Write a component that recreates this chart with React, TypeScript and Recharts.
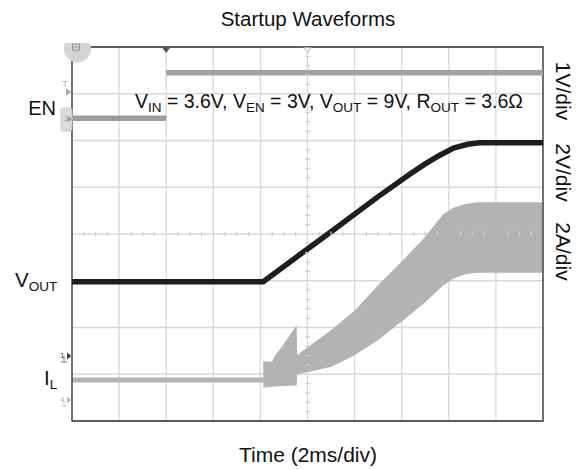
import React from 'react';
import {
  ComposedChart,
  Line,
  Area,
  XAxis,
  YAxis,
  CartesianGrid,
  ReferenceArea,
  ReferenceDot,
  Scatter,
} from 'recharts';

// Axes in scope divisions: time 0..10 div (2 ms/div), level 0..8 div
const timeTicks = [0, 1, 2, 3, 4, 5, 6, 7, 8, 9, 10];
const levelTicks = [0, 1, 2, 3, 4, 5, 6, 7, 8];

// EN trace (1 V/div)
const enLowT = [0, 2.0];
const enLowV = [6.475, 6.475];
const enHighT = [2.0, 10];
const enHighV = [7.45, 7.45];

// VOUT trace (2 V/div)
const voutT = [0, 4.06, 4.84, 5.5, 6.5, 7.2, 7.5, 7.8, 8.1, 8.4, 8.65, 10];
const voutV = [2.98, 2.98, 3.56, 4.05, 4.8, 5.3, 5.5, 5.68, 5.84, 5.92, 5.95, 5.95];

// IL ripple envelope (2 A/div): low / high edges
const ilT = [0, 4.06, 4.06, 4.25, 4.3, 4.5, 4.77, 4.78, 5.02, 5.51, 6.01, 6.5, 7.0, 7.49, 7.88, 8.1, 8.35, 8.6, 10];
const ilLow = [0.825, 0.825, 0.71, 0.73, 0.74, 0.75, 0.76, 1.0, 1.05, 1.16, 1.41, 1.73, 2.13, 2.53, 2.9, 3.05, 3.14, 3.17, 3.17];
const ilHigh = [0.93, 0.93, 1.28, 1.27, 1.38, 1.65, 2.05, 1.41, 1.59, 1.95, 2.37, 2.91, 3.41, 3.93, 4.42, 4.56, 4.64, 4.68, 4.68];

const enLow = enLowT.map((t, i) => ({ t, v: enLowV[i] }));
const enHigh = enHighT.map((t, i) => ({ t, v: enHighV[i] }));
const vout = voutT.map((t, i) => ({ t, v: voutV[i] }));
const il = ilT.map((t, i) => ({ t, r: [ilLow[i], ilHigh[i]] }));

// minor graticule ticks on the centre cross
const hMinor: { t: number; v: number }[] = [];
for (let k = 1; k < 40; k++) if (k % 4 !== 0) hMinor.push({ t: k * 0.25, v: 4 });
const vMinor: { t: number; v: number }[] = [];
for (let k = 1; k < 40; k++) if (k % 5 !== 0) vMinor.push({ t: 5, v: k * 0.2 });

const FONT = '"Liberation Sans", Arial, Helvetica, sans-serif';

const HTick = (p: any) => (
  <line x1={p.cx} x2={p.cx} y1={p.cy - 2.5} y2={p.cy + 2.5} stroke="#cfcfcf" strokeWidth={1.2} />
);
const VTick = (p: any) => (
  <line x1={p.cx - 2.5} x2={p.cx + 2.5} y1={p.cy} y2={p.cy} stroke="#cfcfcf" strokeWidth={1.2} />
);

const TrigDown = (p: any) => (
  <path d={`M${p.cx - 4.5},${p.cy} L${p.cx + 4.5},${p.cy} L${p.cx},${p.cy + 6} Z`} fill="#555" />
);
const TrigHollow = (p: any) => (
  <path d={`M${p.cx - 3.5},${p.cy + 0.5} L${p.cx + 3.5},${p.cy + 0.5} L${p.cx},${p.cy + 5.5} Z`} fill="#fff" stroke="#999" strokeWidth={0.8} />
);
const CornerBadge = (p: any) => (
  <g>
    <defs>
      <clipPath id="badgeClip">
        <rect x={p.cx - 20} y={p.cy - 6} width={40} height={30} />
      </clipPath>
    </defs>
    <circle cx={p.cx} cy={p.cy} r={13.5} fill="#d4d4d4" clipPath="url(#badgeClip)" />
    <rect x={p.cx - 5} y={p.cy - 5} width={7} height={6} fill="none" stroke="#888" strokeWidth={0.8} />
    <line x1={p.cx - 4} x2={p.cx + 1} y1={p.cy - 2} y2={p.cy - 2} stroke="#888" strokeWidth={0.8} />
  </g>
);
const TrigLevel = (p: any) => (
  <g>
    <path d={`M${p.cx - 5},${p.cy - 4} L${p.cx},${p.cy} L${p.cx - 5},${p.cy + 4} Z`} fill="#a8a8a8" />
    <text x={p.cx - 6} y={p.cy - 5} fontSize={9} fill="#b0b0b0" textAnchor="middle" fontFamily={FONT}>T</text>
  </g>
);
const Ch3Marker = (p: any) => (
  <g>
    <rect x={p.cx - 11} y={p.cy - 11} width={11} height={23} rx={2} fill="#dadada" stroke="#c4c4c4" strokeWidth={0.8} />
    <text x={p.cx - 8} y={p.cy + 2} fontSize={8} fill="#999" fontFamily={FONT}>3</text>
    <path d={`M${p.cx - 4},${p.cy - 3} L${p.cx},${p.cy} L${p.cx - 4},${p.cy + 3} Z`} fill="#999" />
  </g>
);
const Ch1Marker = (p: any) => (
  <g>
    <text x={p.cx - 11} y={p.cy + 2} fontSize={8} fill="#444" fontFamily={FONT}>1</text>
    <path d={`M${p.cx - 4},${p.cy - 3.5} L${p.cx},${p.cy} L${p.cx - 4},${p.cy + 3.5} Z`} fill="#333" />
    <line x1={p.cx - 7} x2={p.cx - 7} y1={p.cy} y2={p.cy + 6} stroke="#666" strokeWidth={0.8} />
    <line x1={p.cx - 10} x2={p.cx - 4} y1={p.cy + 6} y2={p.cy + 6} stroke="#666" strokeWidth={0.8} />
  </g>
);
const Ch4Marker = (p: any) => (
  <g>
    <text x={p.cx - 11} y={p.cy + 2} fontSize={8} fill="#bbb" fontFamily={FONT}>4</text>
    <path d={`M${p.cx - 4},${p.cy - 3.5} L${p.cx},${p.cy} L${p.cx - 4},${p.cy + 3.5} Z`} fill="#bbb" />
    <line x1={p.cx - 7} x2={p.cx - 7} y1={p.cy} y2={p.cy + 6} stroke="#bbb" strokeWidth={0.8} />
    <line x1={p.cx - 10} x2={p.cx - 4} y1={p.cy + 6} y2={p.cy + 6} stroke="#bbb" strokeWidth={0.8} />
  </g>
);

const Sub = ({ children }: { children: React.ReactNode }) => (
  <tspan fontSize={13.5} dy={4}>{children}</tspan>
);
const Back = ({ children }: { children: React.ReactNode }) => (
  <tspan dy={-4}>{children}</tspan>
);

export default function App() {
  return (
    <div style={{ position: 'absolute', left: 0, top: 0, width: 582, height: 469, background: '#fff' }}>
      <ComposedChart
        width={582}
        height={469}
        margin={{ top: 47, right: 39, bottom: 48, left: 72 }}
      >
        <XAxis dataKey="t" type="number" domain={[0, 10]} ticks={timeTicks} hide allowDataOverflow />
        <YAxis dataKey="v" type="number" domain={[0, 8]} ticks={levelTicks} hide allowDataOverflow />
        <CartesianGrid stroke="#d8d8d8" strokeWidth={1.3} />
        <Scatter data={hMinor} shape={HTick} isAnimationActive={false} />
        <Scatter data={vMinor} shape={VTick} isAnimationActive={false} />
        <Area
          data={il}
          dataKey="r"
          type="linear"
          stroke="none"
          fill="#b3b3b3"
          fillOpacity={1}
          isAnimationActive={false}
        />
        <Line data={enLow} dataKey="v" type="linear" stroke="#9c9c9c" strokeWidth={5.5} dot={false} isAnimationActive={false} />
        <Line data={enHigh} dataKey="v" type="linear" stroke="#a2a2a2" strokeWidth={5.5} dot={false} isAnimationActive={false} />
        <Line data={vout} dataKey="v" type="linear" stroke="#1e1e1e" strokeWidth={5.5} dot={false} isAnimationActive={false} />
        <ReferenceArea x1={0} x2={10} y1={0} y2={8} fill="none" stroke="#333" strokeWidth={1.3} ifOverflow="visible" />
        <ReferenceDot x={0.117} y={7.957} shape={CornerBadge} ifOverflow="visible" />
        <ReferenceDot x={2} y={8} shape={TrigDown} ifOverflow="visible" />
        <ReferenceDot x={5} y={8} shape={TrigHollow} ifOverflow="visible" />
        <ReferenceDot x={-0.02} y={7.04} shape={TrigLevel} ifOverflow="visible" />
        <ReferenceDot x={0} y={6.46} shape={Ch3Marker} ifOverflow="visible" />
        <ReferenceDot x={-0.02} y={1.39} shape={Ch1Marker} ifOverflow="visible" />
        <ReferenceDot x={-0.02} y={0.45} shape={Ch4Marker} ifOverflow="visible" />
      </ComposedChart>
      <svg
        width={582}
        height={469}
        style={{ position: 'absolute', left: 0, top: 0, pointerEvents: 'none' }}
        fontFamily={FONT}
      >
        <text x={308} y={26} fontSize={20.5} textAnchor="middle" fill="#111">Startup Waveforms</text>
        <text x={308} y={461.5} fontSize={21} textAnchor="middle" fill="#111">Time (2ms/div)</text>
        <text x={135} y={108} fontSize={19.5} fill="#111">
          V<Sub>IN</Sub><Back> = 3.6V, V</Back><Sub>EN</Sub><Back> = 3V, V</Back><Sub>OUT</Sub><Back> = 9V, R</Back><Sub>OUT</Sub><Back> = 3.6Ω</Back>
        </text>
        <text x={56} y={115} fontSize={20} textAnchor="end" fill="#111">EN</text>
        <text x={15} y={286.5} fontSize={20.5} fill="#111">
          V<Sub>OUT</Sub>
        </text>
        <text x={44} y={385} fontSize={20.5} fill="#111">
          I<Sub>L</Sub>
        </text>
        <text transform="translate(556,91) rotate(90)" fontSize={21} textAnchor="middle" fill="#111">1V/div</text>
        <text transform="translate(556,172.5) rotate(90)" fontSize={21} textAnchor="middle" fill="#111">2V/div</text>
        <text transform="translate(556,251.5) rotate(90)" fontSize={21} textAnchor="middle" fill="#111">2A/div</text>
      </svg>
    </div>
  );
}
